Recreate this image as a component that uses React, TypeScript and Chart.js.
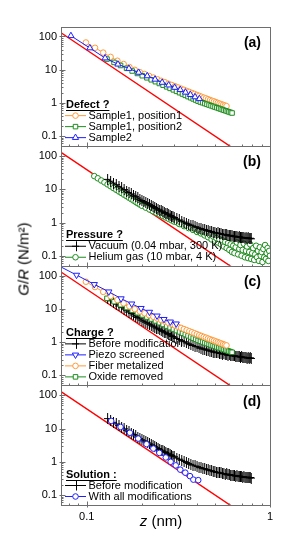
import React, { useEffect, useRef } from "react";
import { Chart, registerables } from "chart.js";

Chart.register(...registerables);

const ORANGE = "#FF9A3C";
const GREEN = "#1E8C1E";
const BLUE = "#1E1EFF";
const RED = "#FF0000";
const BLACK = "#000000";
const FRAME = "#6E6E6E";

const NARROW = "'Liberation Sans Narrow', 'Arial Narrow', 'Liberation Sans', Arial, sans-serif";
const SANS = "'Liberation Sans', Arial, sans-serif";

// ---------- axes / ticks ----------
const zTickValues = [0.1, 1];
const zTickLabels = ["0.1", "1"];
const zMinorTicks = [0.08, 0.09, 0.2, 0.3, 0.4, 0.5, 0.6, 0.7, 0.8, 0.9];
const gTickValues = [0.1, 1, 10, 100];
const gTickLabels = ["0.1", "1", "10", "100"];
const gMinorTicks = [
  0.06, 0.07, 0.08, 0.09, 0.2, 0.3, 0.4, 0.5, 0.6, 0.7, 0.8, 0.9,
  2, 3, 4, 5, 6, 7, 8, 9, 20, 30, 40, 50, 60, 70, 80, 90,
];

// ---------- data ----------
// red reference line (two end points, clipped by each panel)
const redZ = [0.07, 0.7];
const redG = [147, 0.029];

// Sample1, position1  /  Fiber metalized (orange circles)
const orangeZ = [
  0.099, 0.111, 0.123, 0.135, 0.147, 0.159, 0.171, 0.183, 0.195, 0.207, 0.219, 0.231,
  0.243, 0.255, 0.267, 0.279, 0.291, 0.303, 0.315, 0.327, 0.339, 0.351, 0.363, 0.375,
  0.387, 0.399, 0.411, 0.423, 0.435, 0.447, 0.459, 0.471, 0.483, 0.495, 0.507, 0.519,
  0.531, 0.543, 0.555, 0.567, 0.579,
];
const orangeG = [
  66, 45.7, 32.7, 24.3, 18.6, 14.8, 12.0, 9.9, 8.4, 7.4, 6.5, 5.8,
  5.15, 4.63, 4.19, 3.8, 3.47, 3.18, 2.92, 2.69, 2.48, 2.3, 2.14, 1.99,
  1.86, 1.74, 1.63, 1.53, 1.44, 1.37, 1.29, 1.22, 1.16, 1.11, 1.05, 1.0,
  0.955, 0.912, 0.873, 0.834, 0.8,
];

// Sample1, position2  /  Oxide removed (green squares)
const greenZ = [
  0.129, 0.141, 0.153, 0.165, 0.177, 0.189, 0.201, 0.213, 0.225, 0.237, 0.249, 0.261,
  0.273, 0.285, 0.297, 0.309, 0.321, 0.333, 0.345, 0.357, 0.369, 0.381, 0.393, 0.405,
  0.417, 0.429, 0.441, 0.453, 0.465, 0.477, 0.489, 0.501, 0.513, 0.525, 0.537, 0.549,
  0.561, 0.573, 0.585, 0.597, 0.609, 0.621,
];
const greenG = [
  20.9, 16.6, 13.4, 11.0, 9.15, 7.71, 6.59, 5.7, 4.97, 4.36, 3.85, 3.42,
  3.05, 2.74, 2.47, 2.23, 2.03, 1.85, 1.69, 1.55, 1.43, 1.32, 1.22, 1.13,
  1.06, 1.01, 0.955, 0.908, 0.863, 0.822, 0.784, 0.748, 0.716, 0.684, 0.656, 0.629,
  0.603, 0.579, 0.557, 0.536, 0.516, 0.497,
];

// Sample2 (blue triangles)
const blueAZ = [0.082, 0.104, 0.126, 0.148, 0.17, 0.192, 0.214, 0.236, 0.258, 0.28, 0.302, 0.324, 0.346, 0.368, 0.39, 0.412];
const blueAG = [105, 45, 22.4, 14.6, 10.8, 8.26, 6.48, 5.12, 4.12, 3.43, 2.91, 2.49, 2.08, 1.77, 1.51, 1.33];

// Vacuum / Before modification (black crosses)
const blackZ = [
  0.13, 0.135, 0.14, 0.145, 0.15, 0.155, 0.16, 0.165, 0.17, 0.175, 0.18, 0.185, 0.19, 0.195,
  0.2, 0.205, 0.21, 0.215, 0.22, 0.225, 0.23, 0.235, 0.24, 0.245, 0.25, 0.255, 0.26, 0.265,
  0.27, 0.275, 0.28, 0.285, 0.29, 0.295, 0.3, 0.31, 0.32, 0.33, 0.34, 0.35, 0.36, 0.37,
  0.38, 0.39, 0.4, 0.41, 0.42, 0.43, 0.44, 0.45, 0.46, 0.47, 0.48, 0.49, 0.5, 0.51, 0.52,
  0.53, 0.54, 0.55, 0.56, 0.57, 0.58, 0.59, 0.6, 0.61, 0.62, 0.63, 0.64, 0.65, 0.66, 0.67,
  0.68, 0.69, 0.7, 0.71, 0.72, 0.73, 0.74, 0.75, 0.76, 0.77, 0.78, 0.79,
];
const blackG = [
  20, 17.6, 15.5, 13.8, 12.3, 11.0, 9.87, 8.9, 8.03, 7.29, 6.62, 6.04, 5.51, 5.05,
  4.62, 4.29, 3.99, 3.72, 3.47, 3.25, 3.04, 2.85, 2.67, 2.52, 2.37, 2.24, 2.12, 2.01,
  1.91, 1.82, 1.73, 1.64, 1.56, 1.49, 1.42, 1.3, 1.2, 1.11, 1.03, 0.951, 0.894, 0.842,
  0.794, 0.75, 0.72, 0.67, 0.665, 0.62, 0.62, 0.58, 0.575, 0.54, 0.54, 0.505, 0.505, 0.48, 0.485,
  0.46, 0.465, 0.44, 0.445, 0.425, 0.43, 0.405, 0.415, 0.395, 0.4, 0.385, 0.39, 0.372, 0.38, 0.365,
  0.372, 0.355, 0.362, 0.347, 0.355, 0.34, 0.348, 0.333, 0.343, 0.328, 0.337, 0.325,
];

// Helium gas (green circles)
const heliumZ = [
  0.11, 0.115, 0.12, 0.125, 0.13, 0.135, 0.14, 0.145, 0.15, 0.155, 0.16, 0.165, 0.17, 0.175,
  0.18, 0.185, 0.19, 0.195, 0.2, 0.21, 0.22, 0.23, 0.24, 0.25, 0.26, 0.27, 0.28, 0.29,
  0.3, 0.31, 0.32, 0.33, 0.34, 0.35, 0.36, 0.37, 0.38, 0.39, 0.4, 0.41, 0.42, 0.43,
  0.44, 0.45, 0.46, 0.47, 0.48, 0.49, 0.5, 0.51, 0.52, 0.53, 0.54, 0.55, 0.56, 0.57,
  0.58, 0.59, 0.6, 0.61, 0.62, 0.63, 0.64, 0.65, 0.66, 0.67, 0.68, 0.69, 0.7, 0.71,
  0.72, 0.73, 0.74, 0.75, 0.76, 0.77, 0.78, 0.79, 0.8, 0.81, 0.82, 0.83, 0.84, 0.85,
  0.86, 0.87, 0.88, 0.89, 0.9, 0.91, 0.92, 0.93, 0.94, 0.95, 0.96, 0.97, 0.98, 0.99, 1.0,
];
const heliumG = [
  25, 21.5, 18.5, 16.2, 14.1, 12.4, 10.9, 9.68, 8.6, 7.7, 6.9, 6.22, 5.6, 5.08,
  4.6, 4.18, 3.8, 3.49, 3.2, 2.81, 2.47, 2.19, 1.96, 1.75, 1.58, 1.42, 1.29, 1.17,
  1.07, 1.02, 0.9, 0.88, 0.78, 0.79, 0.68, 0.7, 0.6, 0.62, 0.52, 0.55, 0.47, 0.5,
  0.41, 0.46, 0.36, 0.42, 0.31, 0.38, 0.27, 0.34, 0.25, 0.31, 0.22, 0.29, 0.19, 0.26,
  0.17, 0.24, 0.15, 0.22, 0.13, 0.2, 0.12, 0.18, 0.25, 0.11, 0.16, 0.21, 0.1, 0.15,
  0.23, 0.09, 0.14, 0.19, 0.085, 0.13, 0.22, 0.08, 0.12, 0.17, 0.075, 0.11, 0.2, 0.09,
  0.14, 0.07, 0.18, 0.1, 0.13, 0.065, 0.16, 0.09, 0.21, 0.08, 0.12, 0.17, 0.07, 0.14, 0.1,
];

// Piezo screened (blue down-triangles)
const piezoZ = [0.065, 0.088, 0.11, 0.132, 0.154, 0.176, 0.198, 0.22, 0.242, 0.264, 0.286, 0.308];
const piezoG = [250, 105, 55, 33, 20.5, 14.3, 10.5, 8.06, 6.2, 4.89, 4.1, 3.58];

// With all modifications (blue circles)
const allModZ = [0.136, 0.153, 0.172, 0.191, 0.212, 0.231, 0.249, 0.27, 0.287, 0.306, 0.324, 0.345, 0.366, 0.382, 0.406];
const allModG = [17, 11.2, 7.5, 5.0, 3.4, 2.5, 1.85, 1.35, 1.0, 0.78, 0.58, 0.47, 0.37, 0.29, 0.28];

// ---------- styles ----------
// tall cross marker (point with vertical error bar)
function makeCross(): HTMLCanvasElement {
  const c = document.createElement("canvas");
  c.width = 7;
  c.height = 11;
  const g = c.getContext("2d")!;
  g.strokeStyle = BLACK;
  g.lineWidth = 1;
  g.beginPath();
  g.moveTo(3.5, 0);
  g.lineTo(3.5, 11);
  g.moveTo(0, 5.5);
  g.lineTo(7, 5.5);
  g.stroke();
  return c;
}

type Sty = { color: string; pointStyle: any; radius: number; rotation?: number; lineWidth?: number; kind: string };
const S: Record<string, Sty> = {
  orange: { color: ORANGE, pointStyle: "circle", kind: "circle", radius: 2.8 },
  green: { color: GREEN, pointStyle: "rect", kind: "rect", radius: 3.2 },
  blueUp: { color: BLUE, pointStyle: "triangle", kind: "triangle", radius: 3.6 },
  blueDown: { color: BLUE, pointStyle: "triangle", kind: "triangle", radius: 3.6, rotation: 180 },
  black: { color: BLACK, pointStyle: "cross", kind: "cross", radius: 4 },
  greenCircle: { color: GREEN, pointStyle: "circle", kind: "circle", radius: 2.8, lineWidth: 0.7 },
  blueCircle: { color: BLUE, pointStyle: "circle", kind: "circle", radius: 2.8 },
};

function series(label: string, z: number[], g: number[], st: Sty, axis: string, order: number, crossImg?: HTMLCanvasElement) {
  return {
    label,
    xAxisID: "x",
    yAxisID: axis,
    order,
    data: z.map((v, i) => ({ x: v, y: g[i] })),
    borderColor: st.color,
    backgroundColor: st.color,
    borderWidth: st.lineWidth ?? 1,
    pointStyle: st.kind === "cross" && crossImg ? crossImg : st.pointStyle,
    pointRadius: st.radius,
    pointRotation: st.rotation ?? 0,
    pointBorderColor: st.color,
    pointBackgroundColor: "#ffffff",
    pointBorderWidth: 1,
    showLine: true,
    fill: false,
    tension: 0,
  };
}

function redLine(axis: string) {
  return {
    label: "fit",
    xAxisID: "x",
    yAxisID: axis,
    order: 20,
    data: redZ.map((v, i) => ({ x: v, y: redG[i] })),
    borderColor: RED,
    borderWidth: 1.4,
    pointRadius: 0,
    fill: false,
    tension: 0,
  };
}

type Item = { text: string; st: Sty };
const panels: { axis: string; label: string; title: string; items: Item[] }[] = [
  {
    axis: "ya", label: "(a)", title: "Defect ?",
    items: [
      { text: "Sample1, position1", st: S.orange },
      { text: "Sample1, position2", st: S.green },
      { text: "Sample2", st: S.blueUp },
    ],
  },
  {
    axis: "yb", label: "(b)", title: "Pressure ?",
    items: [
      { text: "Vacuum (0.04 mbar, 300 K)", st: S.black },
      { text: "Helium gas (10 mbar, 4 K)", st: S.greenCircle },
    ],
  },
  {
    axis: "yc", label: "(c)", title: "Charge ?",
    items: [
      { text: "Before modification", st: S.black },
      { text: "Piezo screened", st: S.blueDown },
      { text: "Fiber metalized", st: S.orange },
      { text: "Oxide removed", st: S.green },
    ],
  },
  {
    axis: "yd", label: "(d)", title: "Solution :",
    items: [
      { text: "Before modification", st: S.black },
      { text: "With all modifications", st: S.blueCircle },
    ],
  },
];

function drawMarker(ctx: CanvasRenderingContext2D, st: Sty, x: number, y: number) {
  const r = st.radius;
  ctx.save();
  ctx.strokeStyle = st.color;
  ctx.fillStyle = "#ffffff";
  ctx.lineWidth = 1;
  ctx.beginPath();
  if (st.kind === "circle") {
    ctx.arc(x, y, r, 0, Math.PI * 2);
    ctx.fill();
  } else if (st.kind === "rect") {
    const s = r * Math.SQRT2;
    ctx.rect(x - s / 2, y - s / 2, s, s);
    ctx.fill();
  } else if (st.kind === "triangle") {
    let a = ((st.rotation ?? 0) * Math.PI) / 180;
    ctx.moveTo(x + Math.sin(a) * r, y - Math.cos(a) * r);
    a += (2 * Math.PI) / 3;
    ctx.lineTo(x + Math.sin(a) * r, y - Math.cos(a) * r);
    a += (2 * Math.PI) / 3;
    ctx.lineTo(x + Math.sin(a) * r, y - Math.cos(a) * r);
    ctx.closePath();
    ctx.fill();
  } else if (st.kind === "cross") {
    ctx.moveTo(Math.round(x) + 0.5, y - 5);
    ctx.lineTo(Math.round(x) + 0.5, y + 5);
    ctx.moveTo(x - 3.5, y);
    ctx.lineTo(x + 3.5, y);
  }
  ctx.stroke();
  ctx.restore();
}

const panelPlugin = {
  id: "panelDecor",
  afterDraw(chart: any) {
    const ctx: CanvasRenderingContext2D = chart.ctx;
    const xs = chart.scales.x;
    panels.forEach((p) => {
      const ys = chart.scales[p.axis];
      const L = Math.round(xs.left) + 0.5;
      const R = Math.round(xs.right) + 0.5;
      const T = Math.round(ys.top) + 0.5;
      const B = Math.round(ys.bottom) + 0.5;
      ctx.save();
      ctx.strokeStyle = FRAME;
      ctx.lineWidth = 1;
      ctx.beginPath();
      gTickValues.forEach((v) => {
        const py = Math.round(ys.getPixelForValue(v)) + 0.5;
        ctx.moveTo(L - 2, py);
        ctx.lineTo(L + 4, py);
      });
      gMinorTicks.forEach((v) => {
        const py = Math.round(ys.getPixelForValue(v)) + 0.5;
        ctx.moveTo(L, py);
        ctx.lineTo(L + 2, py);
      });
      zTickValues.forEach((v) => {
        const px = Math.round(xs.getPixelForValue(v)) + 0.5;
        ctx.moveTo(px, B + 2);
        ctx.lineTo(px, B - 4);
      });
      zMinorTicks.forEach((v) => {
        const px = Math.round(xs.getPixelForValue(v)) + 0.5;
        ctx.moveTo(px, B);
        ctx.lineTo(px, B - 2);
      });
      ctx.stroke();
      ctx.strokeRect(L, T, R - L, B - T);

      // panel label
      ctx.fillStyle = "#000";
      ctx.font = `bold 14px ${SANS}`;
      ctx.textAlign = "right";
      ctx.textBaseline = "middle";
      ctx.fillText(p.label, xs.right - 9, ys.top + 16.5);

      // legend
      const n = p.items.length;
      const step = 11;
      const lastY = ys.bottom - 8.5;
      const titleY = lastY - step * n;
      ctx.textAlign = "left";
      ctx.font = `bold 11px ${NARROW}`;
      ctx.fillText(p.title, 66, titleY);
      const tw = ctx.measureText(p.title).width;
      ctx.beginPath();
      ctx.strokeStyle = "#000";
      ctx.moveTo(66, Math.round(titleY + 5) + 0.5);
      ctx.lineTo(66 + tw, Math.round(titleY + 5) + 0.5);
      ctx.stroke();
      ctx.font = `11px ${NARROW}`;
      p.items.forEach((it, i) => {
        const y = lastY - step * (n - 1 - i);
        ctx.beginPath();
        ctx.strokeStyle = it.st.color;
        ctx.lineWidth = 1;
        ctx.moveTo(65, y);
        ctx.lineTo(86, y);
        ctx.stroke();
        drawMarker(ctx, it.st, 75.5, y);
        ctx.fillStyle = "#000";
        ctx.fillText(it.text, 88.5, y);
      });
      ctx.restore();
    });
  },
};

function yAxis() {
  return {
    type: "logarithmic",
    position: "left",
    stack: "g",
    stackWeight: 1,
    min: 0.05,
    max: 200,
    grid: { display: false, drawTicks: false },
    border: { display: false },
    afterBuildTicks: (s: any) => {
      s.ticks = gTickValues.map((v) => ({ value: v }));
    },
    afterFit: (s: any) => {
      s.width = 61;
    },
    ticks: {
      padding: 4,
      color: "#000",
      autoSkip: false,
      font: { family: NARROW, size: 11 },
      callback: (v: any) => {
        const i = gTickValues.indexOf(Number(v));
        return i >= 0 ? gTickLabels[i] : "";
      },
    },
  };
}

export default function App() {
  const ref = useRef<HTMLCanvasElement>(null);
  useEffect(() => {
    if (!ref.current) return;
    const cross = makeCross();
    const datasets: any[] = [
      series("Sample2", blueAZ, blueAG, S.blueUp, "ya", 1),
      series("Sample1, position2", greenZ, greenG, S.green, "ya", 2),
      series("Sample1, position1", orangeZ, orangeG, S.orange, "ya", 3),
      redLine("ya"),
      series("Vacuum (0.04 mbar, 300 K)", blackZ, blackG, S.black, "yb", 1, cross),
      series("Helium gas (10 mbar, 4 K)", heliumZ, heliumG, S.greenCircle, "yb", 2),
      redLine("yb"),
      series("Piezo screened", piezoZ, piezoG, S.blueDown, "yc", 1),
      series("Fiber metalized", orangeZ, orangeG, S.orange, "yc", 2),
      series("Oxide removed", greenZ, greenG, S.green, "yc", 3),
      series("Before modification", blackZ, blackG, S.black, "yc", 4, cross),
      redLine("yc"),
      series("With all modifications", allModZ, allModG, S.blueCircle, "yd", 1),
      series("Before modification", blackZ, blackG, S.black, "yd", 2, cross),
      redLine("yd"),
    ];
    // stacked axes are laid out bottom-up in definition order: (d) first, (a) last
    const chart = new Chart(ref.current, {
      type: "line",
      data: { datasets },
      options: {
        responsive: false,
        animation: false,
        events: [],
        layout: { padding: { top: 26.5, right: 29, bottom: 0, left: 0 } },
        plugins: { legend: { display: false }, tooltip: { enabled: false } },
        scales: {
          x: {
            type: "logarithmic",
            position: "bottom",
            min: 0.0724,
            max: 1,
            grid: { display: false, drawTicks: false },
            border: { display: false },
            afterBuildTicks: (s: any) => {
              s.ticks = zTickValues.map((v) => ({ value: v }));
            },
            afterFit: (s: any) => {
              s.height = 43;
            },
            ticks: {
              padding: 5,
              maxRotation: 0,
              autoSkip: false,
              color: "#000",
              font: { family: NARROW, size: 11 },
              callback: (v: any) => {
                const i = zTickValues.indexOf(Number(v));
                return i >= 0 ? zTickLabels[i] : "";
              },
            },
          },
          yd: yAxis(),
          yc: yAxis(),
          yb: yAxis(),
          ya: yAxis(),
        } as any,
      },
      plugins: [panelPlugin],
    } as any);
    return () => chart.destroy();
  }, []);

  return (
    <div style={{ position: "absolute", left: 0, top: 0, width: 299, height: 548, background: "#fff" }}>
      <canvas ref={ref} width={299} height={548} style={{ position: "absolute", left: 0, top: 0, width: 299, height: 548 }} />
      <div
        style={{
          position: "absolute",
          left: 23,
          top: 259,
          transform: "translate(-50%, -50%) rotate(-90deg)",
          whiteSpace: "nowrap",
          font: `15px ${SANS}`,
          color: "#000",
          lineHeight: 1,
        }}
      >
        <i>G</i>/<i>R</i> (N/m²)
      </div>
      <div
        style={{
          position: "absolute",
          left: 161,
          top: 519.5,
          transform: "translate(-50%, -50%)",
          whiteSpace: "nowrap",
          font: `15px ${SANS}`,
          color: "#000",
          lineHeight: 1,
        }}
      >
        <i>z</i> (nm)
      </div>
    </div>
  );
}
